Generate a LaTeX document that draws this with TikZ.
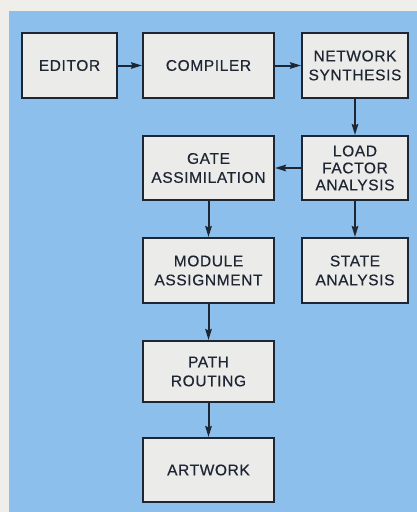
\documentclass[tikz,border=0pt]{standalone}
\usepackage{fontspec}
\usetikzlibrary{arrows.meta}
\newfontfamily\boxfont[LetterSpace=4,FakeBold=0.5]{Liberation Sans}
\definecolor{paper}{HTML}{EFEEEA}
\definecolor{panel}{HTML}{8DBFEC}
\definecolor{boxfill}{HTML}{EBEBEA}
\definecolor{ink}{HTML}{1F2633}
\tikzset{
  stage/.style={draw=ink, line width=2pt, fill=boxfill, inner sep=0pt,
    align=center, text=ink,
    font=\boxfont\fontsize{15.5}{19}\selectfont},
  flow/.style={draw=ink, line width=2pt, -{Stealth[length=11pt,width=6.5pt,inset=1.5pt]}}
}
\begin{document}
\begin{tikzpicture}[x=1pt,y=-1pt]
  \fill[paper] (0,0) rectangle (417,512);
  \fill[panel] (9,11) rectangle (417,512);
  % top row
  \node[stage, minimum width=95pt, minimum height=65pt] (editor) at (69.5,65.5) {EDITOR};
  \node[stage, minimum width=131pt, minimum height=65pt] (compiler) at (208.5,65.5) {COMPILER};
  \node[stage, minimum width=106pt, minimum height=65pt] (synth) at (355,65.5) {NETWORK\\SYNTHESIS};
  % second row
  \node[stage, minimum width=131pt, minimum height=64pt] (gate) at (208.5,168) {GATE\\ASSIMILATION};
  \node[stage, minimum width=106pt, minimum height=64pt,
    font=\boxfont\fontsize{15.5}{17}\selectfont] (load) at (355,168) {LOAD\\FACTOR\\ANALYSIS};
  % third row
  \node[stage, minimum width=131pt, minimum height=65pt] (module) at (208.5,270.5) {MODULE\\ASSIGNMENT};
  \node[stage, minimum width=106pt, minimum height=65pt] (state) at (355,270.5) {STATE\\ANALYSIS};
  % lower column
  \node[stage, minimum width=131pt, minimum height=61pt] (route) at (208.5,371.5) {PATH\\ROUTING};
  \node[stage, minimum width=131pt, minimum height=64pt] (art) at (208.5,470) {ARTWORK};
  % connectors
  \draw[flow] (editor) -- (compiler);
  \draw[flow] (compiler) -- (synth);
  \draw[flow] (synth) -- (load);
  \draw[flow] (load) -- (gate);
  \draw[flow] (load) -- (state);
  \draw[flow] (gate) -- (module);
  \draw[flow] (module) -- (route);
  \draw[flow] (route) -- (art);
\end{tikzpicture}
\end{document}
